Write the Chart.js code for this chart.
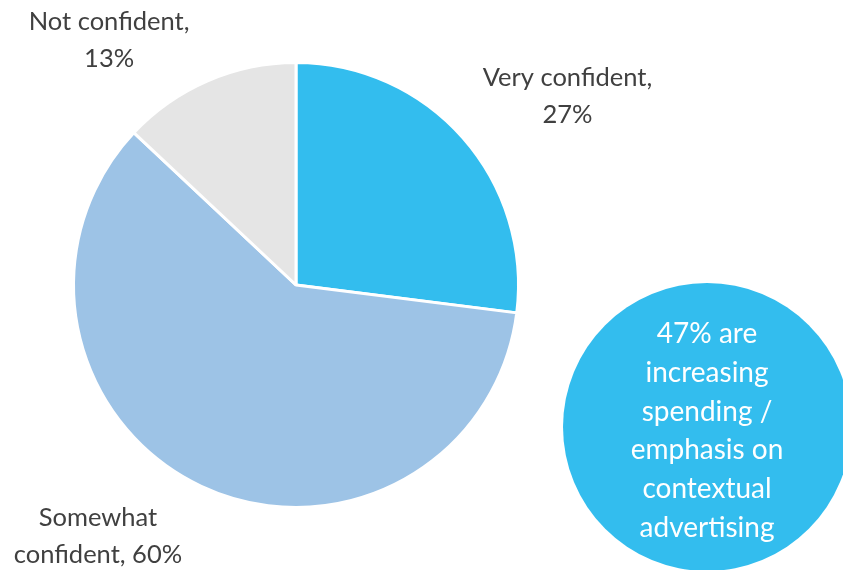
<!DOCTYPE html>
<html>
<head>
<meta charset="utf-8">
<script src="https://cdn.jsdelivr.net/npm/chart.js@4"></script>
<style>
  html, body { margin: 0; padding: 0; background: #fff; }
  #wrap { width: 843px; height: 570px; position: relative; }
</style>
</head>
<body>
<div id="wrap"><canvas id="pie"></canvas></div>
<script>
const categories = ['Very confident', 'Somewhat confident', 'Not confident'];
const shares = [27, 60, 13];
const sliceColors = ['#33bdee', '#9dc3e6', '#e5e5e5'];
// label lines drawn outside each slice
const labelLines = [
	['Very confident,', '27%'],
	['Somewhat', 'confident, 60%'],
	['Not confident,', '13%']
];
// label centre, relative to pie centre, in pie radii
const labelOffsets = [[1.22, -0.85], [-0.89, 1.13], [-0.84, -1.1]];
const calloutLines = ['47% are', 'increasing', 'spending /', 'emphasis on', 'contextual', 'advertising'];

const LABEL_FONT = '25.5px Lato, "Open Sans", sans-serif';
const CALLOUT_FONT = '28px Lato, "Open Sans", sans-serif';

const sliceLabels = {
	id: 'sliceLabels',
	afterDraw(chart) {
		const arc = chart.getDatasetMeta(0).data[0];
		const cx = arc.x, cy = arc.y, r = arc.outerRadius;
		const ctx = chart.ctx;
		ctx.save();
		ctx.font = LABEL_FONT;
		ctx.fillStyle = '#404040';
		ctx.textAlign = 'center';
		ctx.textBaseline = 'middle';
		labelLines.forEach((lines, i) => {
			const x = cx + labelOffsets[i][0] * r;
			const y = cy + labelOffsets[i][1] * r;
			lines.forEach((t, j) => {
				ctx.fillText(t, x, y + (j - (lines.length - 1) / 2) * 37);
			});
		});
		ctx.restore();
	}
};

const callout = {
	id: 'callout',
	afterDraw(chart) {
		const ctx = chart.ctx;
		const cx = 707, cy = 427, rr = 144;
		ctx.save();
		ctx.beginPath();
		ctx.arc(cx, cy, rr, 0, Math.PI * 2);
		ctx.fillStyle = '#33bdee';
		ctx.fill();
		ctx.font = CALLOUT_FONT;
		ctx.fillStyle = '#ffffff';
		ctx.textAlign = 'center';
		ctx.textBaseline = 'middle';
		calloutLines.forEach((t, j) => {
			ctx.fillText(t, cx, 334 + j * 38.8);
		});
		ctx.restore();
	}
};

new Chart(document.getElementById('pie'), {
	type: 'pie',
	data: {
		labels: categories,
		datasets: [{
			data: shares,
			backgroundColor: sliceColors,
			borderColor: '#ffffff',
			borderWidth: 3
		}]
	},
	options: {
		responsive: true,
		maintainAspectRatio: false,
		animation: false,
		layout: { padding: { left: 72, right: 323, top: 60, bottom: 60 } },
		plugins: {
			legend: { display: false },
			tooltip: { enabled: false }
		}
	},
	plugins: [sliceLabels, callout]
});
</script>
</body>
</html>
